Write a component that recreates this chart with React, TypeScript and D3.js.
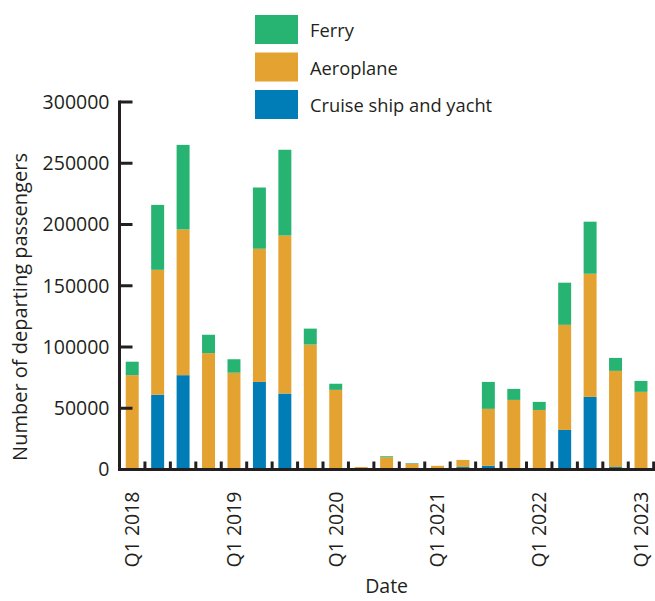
import React from "react";
import * as d3 from "d3";

const quarters = [
  "Q1 2018", "Q2 2018", "Q3 2018", "Q4 2018",
  "Q1 2019", "Q2 2019", "Q3 2019", "Q4 2019",
  "Q1 2020", "Q2 2020", "Q3 2020", "Q4 2020",
  "Q1 2021", "Q2 2021", "Q3 2021", "Q4 2021",
  "Q1 2022", "Q2 2022", "Q3 2022", "Q4 2022",
  "Q1 2023",
];
const cruise = [1000, 61000, 77000, 1000, 1000, 71500, 62000, 1000, 1000, 1000, 1000, 1200, 1000, 2000, 3000, 500, 200, 32300, 59300, 2000, 700];
const aeroplane = [76000, 102000, 119000, 94000, 78000, 108700, 129000, 101000, 64000, 1000, 9000, 3500, 2000, 5800, 46500, 56300, 48400, 85800, 100500, 78500, 62700];
const ferry = [11000, 53000, 69000, 15000, 11000, 50000, 70000, 13000, 5000, 0, 800, 500, 0, 0, 22000, 9000, 6600, 34400, 42500, 10600, 8900];
const yTicks = [0, 50000, 100000, 150000, 200000, 250000, 300000];
const labelledQuarters = ["Q1 2018", "Q1 2019", "Q1 2020", "Q1 2021", "Q1 2022", "Q1 2023"];

const seriesKeys = ["cruise", "aeroplane", "ferry"];
const colors: Record<string, string> = { cruise: "#007db7", aeroplane: "#e4a231", ferry: "#27b473" };
const legendItems = [
  { key: "ferry", label: "Ferry" },
  { key: "aeroplane", label: "Aeroplane" },
  { key: "cruise", label: "Cruise ship and yacht" },
];

const W = 655, H = 601;
const left = 119.5, right = 653.7, top = 102, bottom = 469.5;
const font = "'Open Sans', 'Noto Sans', sans-serif";
const axisColor = "#231f20";

export default function App() {
  const rows = quarters.map((q, i) => ({ q, cruise: cruise[i], aeroplane: aeroplane[i], ferry: ferry[i] }));
  const stack = d3.stack<any>().keys(seriesKeys)(rows);
  const x = d3.scaleBand().domain(quarters).range([left, right]).paddingInner(0.49).paddingOuter(0.245);
  const y = d3.scaleLinear().domain([0, 300000]).range([bottom, top]);
  const step = (right - left) / quarters.length;

  return (
    <svg width={W} height={H} style={{ position: "absolute", left: 0, top: 0, background: "#fff" }} fontFamily={font}>
      {stack.map((s) => (
        <g key={s.key} fill={colors[s.key]}>
          {s.map((d, i) => {
            const h = y(d[0]) - y(d[1]);
            if (h <= 0) return null;
            return <rect key={i} x={x(quarters[i])} y={y(d[1])} width={x.bandwidth()} height={h} />;
          })}
        </g>
      ))}
      {/* y axis */}
      <line x1={left} x2={left} y1={top - 1.5} y2={bottom + 1.5} stroke={axisColor} strokeWidth={3} />
      {yTicks.map((t) => (
        <g key={t}>
          {t > 0 && <line x1={left} x2={left + 13} y1={y(t)} y2={y(t)} stroke={axisColor} strokeWidth={3} />}
          <text x={left - 10} y={y(t)} dy="0.35em" textAnchor="end" fontSize={19.5} fill="#231f20">{t}</text>
        </g>
      ))}
      {/* x axis */}
      <line x1={left - 1.5} x2={right + 1.5} y1={bottom} y2={bottom} stroke={axisColor} strokeWidth={3} />
      {quarters.map((q, i) => (
        <line key={q} x1={left + step * (i + 1)} x2={left + step * (i + 1)} y1={bottom} y2={bottom - 8} stroke={axisColor} strokeWidth={3} />
      ))}
      {labelledQuarters.map((q) => {
        const cx = (x(q) as number) + x.bandwidth() / 2;
        return (
          <text key={q} transform={`translate(${cx},${bottom + 22}) rotate(-90)`} dy="0.35em" textAnchor="end" fontSize={19.5} fill="#231f20">{q}</text>
        );
      })}
      <text x={(left + right) / 2} y={593} textAnchor="middle" fontSize={19.5} fill="#231f20">Date</text>
      <text transform={`translate(20,${307}) rotate(-90)`} dy="0.35em" textAnchor="middle" fontSize={20} fill="#231f20">Number of departing passengers</text>
      {/* legend */}
      {legendItems.map((l, i) => (
        <g key={l.key} transform={`translate(255,${15 + i * 37.5})`}>
          <rect width={43} height={29} fill={colors[l.key]} />
          <text x={55} y={16} dy="0.35em" fontSize={18.3} fill="#231f20">{l.label}</text>
        </g>
      ))}
    </svg>
  );
}
